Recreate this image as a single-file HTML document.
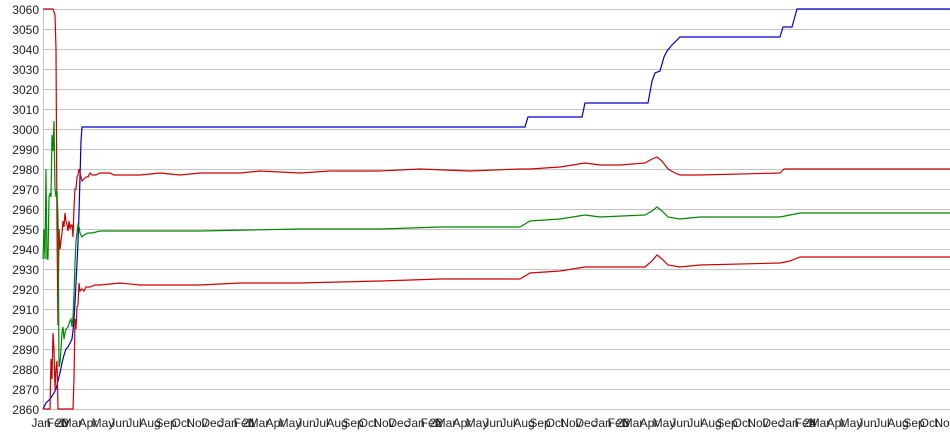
<!DOCTYPE html>
<html><head><meta charset="utf-8"><style>
html,body{margin:0;padding:0;background:#fff;}
svg{display:block;font-family:"Liberation Sans",sans-serif;font-size:12px;}
</style></head><body>
<svg width="950" height="435" viewBox="0 0 950 435">
<g stroke="#c4c4c4" stroke-width="1">
<line x1="43" y1="9.5" x2="950" y2="9.5"/><line x1="43" y1="29.5" x2="950" y2="29.5"/><line x1="43" y1="49.5" x2="950" y2="49.5"/><line x1="43" y1="69.5" x2="950" y2="69.5"/><line x1="43" y1="89.5" x2="950" y2="89.5"/><line x1="43" y1="109.5" x2="950" y2="109.5"/><line x1="43" y1="129.5" x2="950" y2="129.5"/><line x1="43" y1="149.5" x2="950" y2="149.5"/><line x1="43" y1="169.5" x2="950" y2="169.5"/><line x1="43" y1="189.5" x2="950" y2="189.5"/><line x1="43" y1="209.5" x2="950" y2="209.5"/><line x1="43" y1="229.5" x2="950" y2="229.5"/><line x1="43" y1="249.5" x2="950" y2="249.5"/><line x1="43" y1="269.5" x2="950" y2="269.5"/><line x1="43" y1="289.5" x2="950" y2="289.5"/><line x1="43" y1="309.5" x2="950" y2="309.5"/><line x1="43" y1="329.5" x2="950" y2="329.5"/><line x1="43" y1="349.5" x2="950" y2="349.5"/><line x1="43" y1="369.5" x2="950" y2="369.5"/><line x1="43" y1="389.5" x2="950" y2="389.5"/><line x1="43" y1="409.5" x2="950" y2="409.5"/>
<line x1="43.5" y1="9" x2="43.5" y2="410"/>
</g>
<g fill="#222" text-anchor="end">
<text x="39" y="14">3060</text><text x="39" y="34">3050</text><text x="39" y="54">3040</text><text x="39" y="74">3030</text><text x="39" y="94">3020</text><text x="39" y="114">3010</text><text x="39" y="134">3000</text><text x="39" y="154">2990</text><text x="39" y="174">2980</text><text x="39" y="194">2970</text><text x="39" y="214">2960</text><text x="39" y="234">2950</text><text x="39" y="254">2940</text><text x="39" y="274">2930</text><text x="39" y="294">2920</text><text x="39" y="314">2910</text><text x="39" y="334">2900</text><text x="39" y="354">2890</text><text x="39" y="374">2880</text><text x="39" y="394">2870</text><text x="39" y="414">2860</text>
</g>
<g fill="#222" text-anchor="middle">
<text x="41" y="427">Jan</text><text x="62" y="427">20</text>
<text x="57" y="427">Feb</text><text x="72" y="427">Mar</text><text x="88" y="427">Apr</text><text x="103" y="427">May</text><text x="119" y="427">Jun</text><text x="134" y="427">Jul</text><text x="150" y="427">Aug</text><text x="166" y="427">Sep</text><text x="181" y="427">Oct</text><text x="197" y="427">Nov</text><text x="212" y="427">Dec</text>
<text x="228" y="427">Jan</text><text x="249" y="427">21</text>
<text x="244" y="427">Feb</text><text x="259" y="427">Mar</text><text x="275" y="427">Apr</text><text x="290" y="427">May</text><text x="306" y="427">Jun</text><text x="321" y="427">Jul</text><text x="337" y="427">Aug</text><text x="353" y="427">Sep</text><text x="368" y="427">Oct</text><text x="384" y="427">Nov</text><text x="399" y="427">Dec</text>
<text x="415" y="427">Jan</text><text x="436" y="427">22</text>
<text x="431" y="427">Feb</text><text x="446" y="427">Mar</text><text x="462" y="427">Apr</text><text x="477" y="427">May</text><text x="493" y="427">Jun</text><text x="508" y="427">Jul</text><text x="524" y="427">Aug</text><text x="540" y="427">Sep</text><text x="555" y="427">Oct</text><text x="571" y="427">Nov</text><text x="586" y="427">Dec</text>
<text x="602" y="427">Jan</text><text x="623" y="427">23</text>
<text x="618" y="427">Feb</text><text x="633" y="427">Mar</text><text x="649" y="427">Apr</text><text x="664" y="427">May</text><text x="680" y="427">Jun</text><text x="695" y="427">Jul</text><text x="711" y="427">Aug</text><text x="727" y="427">Sep</text><text x="742" y="427">Oct</text><text x="758" y="427">Nov</text><text x="773" y="427">Dec</text>
<text x="789" y="427">Jan</text><text x="810" y="427">24</text>
<text x="805" y="427">Feb</text><text x="820" y="427">Mar</text><text x="836" y="427">Apr</text><text x="851" y="427">May</text><text x="867" y="427">Jun</text><text x="882" y="427">Jul</text><text x="898" y="427">Aug</text><text x="914" y="427">Sep</text><text x="929" y="427">Oct</text><text x="945" y="427">Nov</text>
</g>
<g fill="none" stroke-width="1.2">
<polyline stroke="#0000cc" points="43,409 46,403 50,399 54,393 56,389 58,381 60,373 62,363 64,355 66,349 68,347 70,343 72,339 73,331 74,319 75,303 76,283 77,263 78,243 79,213 80,177 81,141 82,127 525,127 528,117 582,117 585,103 648,103 652,81 655,73 660,71 664,57 667,51 672,45 680,37 780,37 783,27 792,27 797,9 950,9"/>
<polyline stroke="#cc0000" points="43,9 53,9 55,15 56,49 57,229 58,325 59,229 60,249 61,241 62,233 63,221 64,227 65,213 66,221 67,225 68,231 69,221 70,229 71,225 72,225 73,237 74,207 75,189 76,189 77,177 78,175 79,169 80,173 81,177 82,181 84,179 86,177 88,177 90,173 92,175 96,175 100,173 110,173 114,175 140,175 160,173 180,175 200,173 240,173 260,171 300,173 330,171 380,171 420,169 470,171 520,169 530,169 560,167 585,163 600,165 620,165 645,163 652,159 657,157 662,161 668,169 675,173 680,175 700,175 780,173 784,169 800,169 950,169"/>
<polyline stroke="#cc0000" points="43,409 50,409 51,359 52,379 53,333 54,349 55,389 56,369 57,361 58,409 73,409 74,379 75,319 76,329 77,307 78,305 79,283 80,291 82,289 84,291 86,287 90,287 95,285 100,285 120,283 140,285 200,285 240,283 300,283 380,281 440,279 520,279 530,273 560,271 585,267 600,267 645,267 652,261 657,255 662,259 668,265 680,267 700,265 780,263 790,261 800,257 950,257"/>
<polyline stroke="#008800" points="43,259 44,229 45,259 46,169 47,259 48,259 49,197 50,193 51,197 52,135 53,151 54,121 55,189 56,197 57,191 58,217 59,367 60,363 61,349 62,333 63,327 64,339 65,333 66,329 68,327 70,321 71,319 72,327 73,317 74,295 75,263 76,241 77,233 78,225 79,227 80,233 82,237 84,235 88,233 92,233 100,231 120,231 200,231 300,229 380,229 440,227 520,227 530,221 560,219 585,215 600,217 645,215 652,211 657,207 662,211 668,217 680,219 700,217 780,217 790,215 800,213 950,213"/>
</g>
</svg>
</body></html>
